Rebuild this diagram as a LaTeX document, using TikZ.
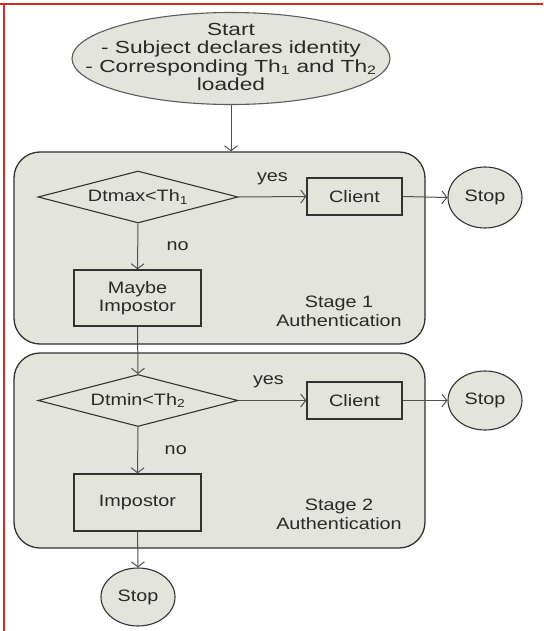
\documentclass[tikz,border=0pt]{standalone}
\usepackage{fontspec}
\setmainfont{Liberation Sans}[FakeStretch=1.2]
\usetikzlibrary{shapes.geometric,arrows.meta}
\definecolor{boxfill}{HTML}{E3E5DD}
\definecolor{edgecol}{HTML}{333333}
\definecolor{arrcol}{HTML}{505050}
\definecolor{framered}{HTML}{D42A2A}
\tikzset{
  txt/.style={font=\fontsize{16.5}{19}\selectfont, text=edgecol!80!black},
  stagebox/.style={draw=edgecol, line width=1.3pt, fill=boxfill, rounded corners=26pt, inner sep=0pt},
  rectbox/.style={txt, draw=edgecol, line width=1.3pt, fill=boxfill, rectangle, inner sep=0pt, align=center},
  decision/.style={txt, draw=edgecol, line width=1.1pt, fill=boxfill, diamond, aspect=3.85, inner sep=0pt, minimum width=200pt, minimum height=52pt},
  stopnode/.style={txt, draw=edgecol, line width=1.1pt, fill=boxfill, ellipse, inner sep=0pt, minimum width=74pt, minimum height=61pt},
  arr/.style={draw=arrcol, line width=1pt, -{Straight Barb[length=5pt,width=13pt,line width=1pt]}},
  lbl/.style={txt}
}
\begin{document}
\begin{tikzpicture}[x=1pt,y=-1pt]
\useasboundingbox (0,0) rectangle (543,631);
\fill[white] (0,0) rectangle (543,631);
\draw[framered, line width=2.5pt] (0,4) -- (543,4);
\draw[framered, line width=2.5pt] (4,4) -- (4,631);

% start ellipse
\node[ellipse, draw=edgecol!80, line width=1.1pt, fill=boxfill, minimum width=318pt, minimum height=92pt, inner sep=0pt] (start) at (231,58.5) {};
\node[txt, align=center, font=\fontsize{17.5}{18.5}\selectfont, transform shape, xscale=1.08] (starttext) at (231,57) {Start\\- Subject declares identity\\- Corresponding Th\textsubscript{1} and Th\textsubscript{2}\\loaded};

% stage boxes
\node[stagebox, minimum width=411pt, minimum height=192pt] (s1) at (219.5,248) {};
\node[stagebox, minimum width=411pt, minimum height=195pt] (s2) at (219.5,450.5) {};

% stage 1
\node[decision] (d1) at (138,197) {Dtmax<Th\textsubscript{1}};
\node[rectbox, minimum width=95pt, minimum height=37pt] (c1) at (354.5,196.5) {Client};
\node[stopnode] (p1) at (485,197.5) {Stop};
\node[rectbox, minimum width=127pt, minimum height=56pt] (m1) at (137.5,298) {Maybe\\[-1pt]Impostor};
\node[txt, align=center] (st1) at (339,311) {Stage 1\\Authentication};

% stage 2
\node[decision] (d2) at (138,400.5) {Dtmin<Th\textsubscript{2}};
\node[rectbox, minimum width=95pt, minimum height=37pt] (c2) at (354.5,400.5) {Client};
\node[stopnode, minimum height=59pt] (p2) at (485,400.5) {Stop};
\node[rectbox, minimum width=127pt, minimum height=57pt] (i2) at (137.5,502.5) {Impostor};
\node[txt, align=center] (st2) at (339,514) {Stage 2\\Authentication};

% final stop
\node[stopnode, minimum height=58pt] (p3) at (138,597) {Stop};

% connectors
\draw[arr] (start.south) -- (start.south |- s1.north);
\draw[arr] (d1.east) -- node[lbl, yshift=18pt] (yes1) {yes} (c1.west);
\draw[arr] (c1.east) -- (p1.west);
\draw[arr] (d1.south) -- node[lbl, xshift=40pt] (no1) {no} (m1.north);
\draw[arr] (m1.south) -- (d2.north);
\draw[arr] (d2.east) -- node[lbl, yshift=19pt, xshift=-4pt] (yes2) {yes} (c2.west);
\draw[arr] (c2.east) -- (p2.west);
\draw[arr] (d2.south) -- node[lbl, xshift=38pt] (no2) {no} (i2.north);
\draw[arr] (i2.south) -- (p3.north);
\end{tikzpicture}
\end{document}
